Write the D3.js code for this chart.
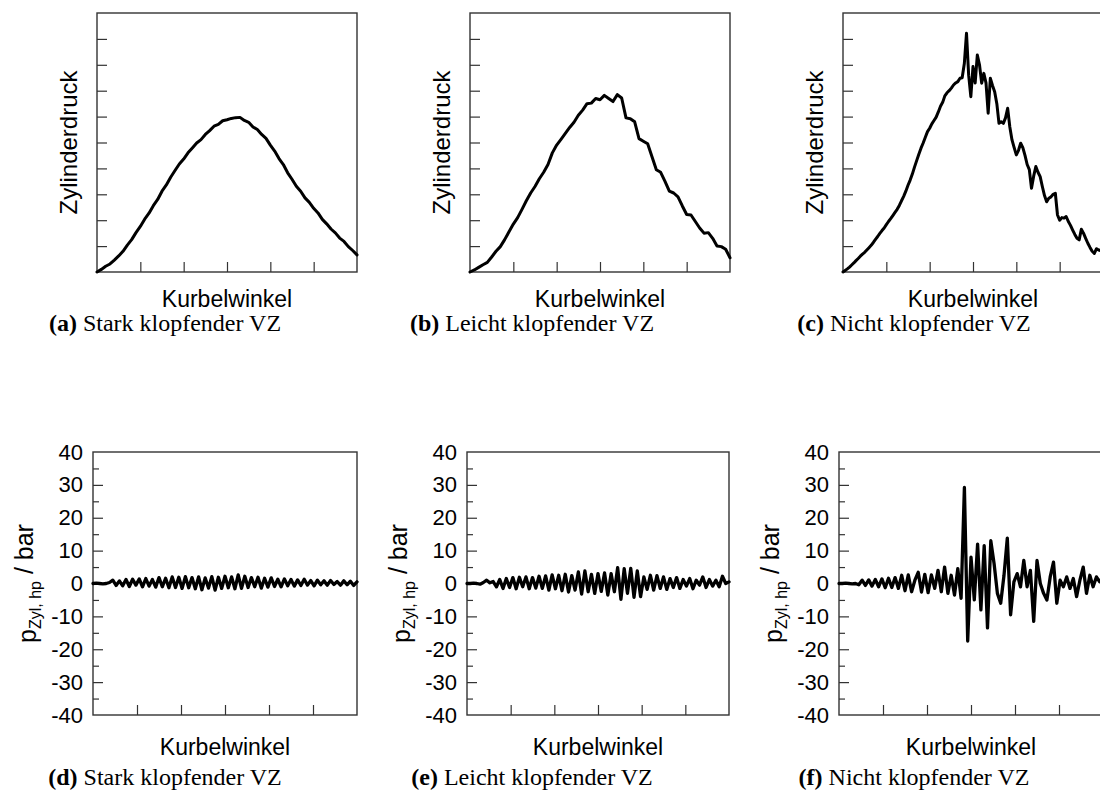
<!DOCTYPE html>
<html><head><meta charset="utf-8">
<script src="https://cdn.jsdelivr.net/npm/d3@7"></script>
<style>body{margin:0;background:#fff}</style>
</head><body><svg id="c" width="1100" height="805"></svg>
<script>
// ---------------- data ----------------
const crankTicks = [0, 10, 20, 30, 40, 50, 60];
const pressureTicks = [0, 1, 2, 3, 4, 5, 6, 7, 8, 9, 10];
const hpTicks = [-40, -30, -20, -10, 0, 10, 20, 30, 40];
const hpMinorTicks = [-35, -25, -15, -5, 5, 15, 25, 35];

const xLabel = "Kurbelwinkel";
const yLabelTop = "Zylinderdruck";
const yLabelBottom = ["p", "Zyl, hp", " / bar"];
const captionTags = ["(a)", "(b)", "(c)", "(d)", "(e)", "(f)"];
const captionTexts = ["Stark klopfender VZ", "Leicht klopfender VZ", "Nicht klopfender VZ",
                      "Stark klopfender VZ", "Leicht klopfender VZ", "Nicht klopfender VZ"];

// cylinder pressure (arbitrary units), sampled evenly over crank angle 0..60
const pressA = [0.00,0.10,0.22,0.31,0.46,0.62,0.80,1.04,1.25,1.52,
  1.76,2.04,2.27,2.56,2.80,3.12,3.36,3.66,3.92,4.17,
  4.36,4.60,4.79,4.98,5.11,5.31,5.46,5.63,5.70,5.84,
  5.88,5.93,5.96,5.97,5.85,5.78,5.60,5.50,5.31,5.16,
  4.90,4.67,4.38,4.15,3.83,3.58,3.31,3.12,2.86,2.69,
  2.46,2.28,2.03,1.86,1.66,1.51,1.31,1.18,0.98,0.83,0.66];
const pressB = [0.00,0.08,0.18,0.28,0.37,0.58,0.80,0.98,1.25,1.55,
  1.85,2.10,2.42,2.75,3.05,3.30,3.60,3.85,4.15,4.60,
  4.90,5.12,5.35,5.58,5.78,6.05,6.25,6.50,6.52,6.70,
  6.65,6.82,6.70,6.58,6.85,6.72,5.95,5.92,5.80,5.15,
  5.05,4.95,4.45,3.95,3.85,3.50,3.12,3.05,2.90,2.55,
  2.22,2.20,1.95,1.70,1.50,1.52,1.30,1.00,0.98,0.88,0.55];
const pressC = [0,0.06,0.12,0.19,0.27,0.35,0.44,0.52,0.61,0.69,
  0.76,0.85,0.94,1.03,1.14,1.26,1.37,1.49,1.60,1.70,
  1.83,1.95,2.06,2.18,2.30,2.42,2.57,2.75,2.92,3.12,
  3.35,3.55,3.78,4.05,4.30,4.55,4.78,4.98,5.20,5.42,
  5.55,5.72,5.85,5.98,6.18,6.40,6.55,6.80,6.92,7.00,
  7.10,7.22,7.30,7.35,7.48,7.50,8.05,9.22,7.60,6.77,
  7.93,7.30,8.38,8.00,7.29,7.67,7.30,6.13,7.48,7.20,
  6.96,6.50,5.74,5.80,5.74,5.95,6.32,5.60,5.10,4.80,
  4.52,4.70,4.97,4.80,4.50,4.15,3.95,3.23,3.70,4.07,
  3.85,3.68,3.30,2.95,2.71,2.85,2.90,3.00,3.04,2.20,
  2.00,2.10,2.08,2.14,1.95,1.80,1.62,1.45,1.30,1.24,
  1.65,1.50,1.30,1.11,0.95,0.80,0.72,0.90,0.85,0.82,0.88];

// high-pass filtered cylinder pressure in bar, sampled evenly over crank angle 0..60
const hpD = [0,0.1,0,-0.1,0,0.3,1.0,-0.6,0.8,-0.7,
  1.2,-0.9,1.3,-0.5,1.4,-1.0,1.5,-0.8,1.2,-1.1,
  1.8,-1.0,1.6,-1.3,2.0,-1.2,1.9,-1.5,2.1,-1.3,
  1.8,-1.6,2.0,-1.9,1.7,-1.4,2.1,-2.0,1.9,-1.5,
  2.2,-1.3,2.0,-1.6,2.6,-1.5,2.2,-1.2,1.8,-1.0,
  1.9,-1.4,1.6,-1.1,1.7,-0.9,1.3,-1.0,1.4,-0.7,
  1.2,-0.8,1.1,-0.6,1.3,-0.5,0.9,-0.7,1.0,-0.4,
  0.8,-0.5,0.9,-0.3,0.6,-0.5,0.8,-0.4,0.7,-0.6,0.5];
const hpE = [0,0,0.1,0,-0.2,0.3,1.0,0.2,0.6,-1.0,
  1.2,-1.5,1.5,-1.2,1.8,-1.6,1.9,-1.0,2.0,-1.6,
  1.8,-1.4,2.2,-1.5,2.3,-2.0,2.6,-1.6,2.5,-2.2,
  2.8,-2.6,2.4,-2.0,3.5,-3.2,3.8,-2.5,2.8,-3.0,
  3.0,-2.4,3.2,-3.5,3.0,-2.5,4.8,-4.8,4.5,-3.0,
  4.6,-4.2,3.8,-4.0,2.0,-1.8,2.5,-2.0,2.4,-1.5,
  2.0,-1.8,1.5,-1.2,1.8,-1.5,1.2,-0.8,1.5,-1.6,
  1.0,-0.5,2.0,-1.2,1.2,-0.8,1.0,-1.0,2.2,0.0,0.5];
const hpF = [0,0,0.1,0,-0.1,0,-0.4,1.0,-0.6,1.1,
  -0.8,1.2,-1.0,1.4,-1.3,1.6,-1.2,1.8,-1.5,2.5,
  -2.2,2.6,-2.5,1.0,3.4,-2.6,2.8,-2.8,2.6,-1.5,
  4.0,-2.5,5.0,-3.0,2.5,-3.5,4.5,-4.5,29.2,-17.5,
  8.0,-5.0,12.0,-8.0,11.5,-13.5,13.0,6.0,-3.0,-6.0,
  2.5,13.8,-9.5,0.5,3.0,-1.0,7.0,-1.0,4.0,-11.5,
  7.0,0,-3.0,-5.0,2.0,6.5,-6.0,1.0,-1.0,2.0,
  -1.5,1.5,-4.0,1.0,5.0,-3.0,2.5,-1.0,2.0,0.5,2.0];

// ---------------- drawing ----------------
const svg = d3.select("#c");
svg.append("rect").attr("width", 1100).attr("height", 805).attr("fill", "#fff");

const SANS = "'Liberation Sans', Arial, Helvetica, sans-serif";
const SERIF = "'Liberation Serif', 'Times New Roman', serif";
const AXIS_COLOR = "#333";

const captionCenters = [165, 532, 914];

const topRow = {top: 13, bottom: 272, panels: [
  {left: 97, right: 357, data: pressA},
  {left: 470, right: 730, data: pressB},
  {left: 843, right: 1103, data: pressC}]};
const bottomRow = {top: 452, bottom: 715, panels: [
  {left: 93, right: 357, data: hpD},
  {left: 467, right: 729, data: hpE},
  {left: 839, right: 1103, data: hpF}]};

function styleAxis(g) {
  g.select(".domain").remove();
  g.selectAll(".tick line").attr("stroke", AXIS_COLOR).attr("stroke-width", 1.2);
  g.selectAll(".tick text").attr("fill", "#000").style("font-family", SANS).style("font-size", "22px");
}

function drawPanel(row, p, kind, idx) {
  const g = svg.append("g");
  const x = d3.scaleLinear().domain([crankTicks[0], crankTicks[crankTicks.length - 1]]).range([p.left, p.right]);
  let y;
  if (kind === "top") {
    y = d3.scaleLinear().domain([pressureTicks[0], pressureTicks[pressureTicks.length - 1]]).range([row.bottom, row.top]);
    g.append("g").attr("transform", `translate(${p.left},0)`)
      .call(d3.axisLeft(y).tickValues(pressureTicks.slice(1, -1)).tickSize(-10).tickSizeOuter(0).tickFormat(""))
      .call(styleAxis);
  } else {
    y = d3.scaleLinear().domain([hpTicks[0], hpTicks[hpTicks.length - 1]]).range([row.bottom, row.top]);
    g.append("g").attr("transform", `translate(${p.left},0)`)
      .call(d3.axisLeft(y).tickValues(hpMinorTicks).tickSize(-6).tickSizeOuter(0).tickFormat(""))
      .call(styleAxis);
    const ax = g.append("g").attr("transform", `translate(${p.left},0)`)
      .call(d3.axisLeft(y).tickValues(hpTicks).tickSize(-10).tickSizeOuter(0).tickPadding(10).tickFormat(d => String(d)))
      .call(styleAxis);
    ax.selectAll(".tick").filter(d => d === hpTicks[0] || d === hpTicks[hpTicks.length - 1]).select("line").remove();
  }
  g.append("g").attr("transform", `translate(0,${row.bottom})`)
    .call(d3.axisBottom(x).tickValues(crankTicks.slice(1, -1)).tickSize(-10).tickSizeOuter(0).tickFormat(""))
    .call(styleAxis);

  // frame
  g.append("rect").attr("x", p.left).attr("y", row.top)
    .attr("width", p.right - p.left).attr("height", row.bottom - row.top)
    .attr("fill", "none").attr("stroke", AXIS_COLOR).attr("stroke-width", 1.4);

  // curve
  const n = p.data.length;
  const xs = d3.scaleLinear().domain([0, n - 1]).range(x.domain());
  const line = d3.line().x((d, i) => x(xs(i))).y(d => y(d));
  g.append("path").datum(p.data).attr("d", line)
    .attr("fill", "none").attr("stroke", "#000").attr("stroke-width", kind === "top" ? 3 : 3.3)
    .attr("stroke-linejoin", "round").attr("stroke-linecap", "round");

  // x label
  g.append("text").attr("x", (p.left + p.right) / 2).attr("y", row.bottom + (kind === "top" ? 35 : 40))
    .attr("text-anchor", "middle").style("font-family", SANS).style("font-size", "23px").text(xLabel);

  // y label
  const cy = (row.top + row.bottom) / 2;
  if (kind === "top") {
    g.append("text").attr("transform", `translate(${p.left - 29},${cy}) rotate(-90)`)
      .attr("text-anchor", "middle").attr("dy", "0.36em")
      .style("font-family", SANS).style("font-size", "24px").text(yLabelTop);
  } else {
    const t = g.append("text").attr("transform", `translate(${p.left - 57},${cy}) rotate(-90)`)
      .attr("text-anchor", "middle").style("font-family", SANS).style("font-size", "25px");
    t.append("tspan").text(yLabelBottom[0]);
    t.append("tspan").attr("dy", "0.3em").style("font-size", "16px").text(yLabelBottom[1]);
    t.append("tspan").attr("dy", "-0.3em").text(yLabelBottom[2]);
  }

  // caption
  const ci = idx + (kind === "top" ? 0 : 3);
  const cap = g.append("text").attr("x", captionCenters[idx]).attr("y", row.bottom + (kind === "top" ? 59 : 70))
    .attr("text-anchor", "middle").style("font-family", SERIF).style("font-size", "24px");
  cap.append("tspan").style("font-weight", "bold").text(captionTags[ci]);
  cap.append("tspan").text(" " + captionTexts[ci]);
}

topRow.panels.forEach((p, i) => drawPanel(topRow, p, "top", i));
bottomRow.panels.forEach((p, i) => drawPanel(bottomRow, p, "bottom", i));
</script>
</body></html>
